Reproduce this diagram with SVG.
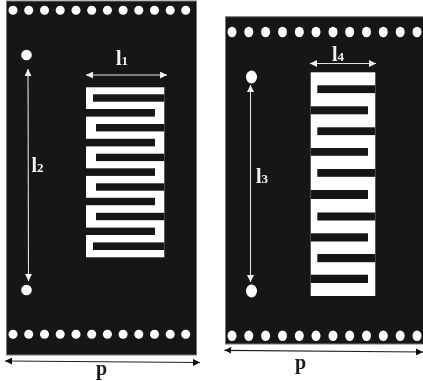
<svg xmlns="http://www.w3.org/2000/svg" width="423" height="381" viewBox="0 0 423 381">
<style>
.board{fill:#161616;stroke:#777;stroke-width:1}
.hole{fill:#fff}
.trace{fill:#fff}
.gap{fill:#161616}
.lite{stroke:#e0e0e0;stroke-width:1.1;fill:none;marker-start:url(#wh);marker-end:url(#wh)}
.dark{stroke:#222;stroke-width:1.2;fill:none;marker-start:url(#bh);marker-end:url(#bh)}
text{font-family:"Liberation Serif",serif;font-weight:bold}
.w{fill:#f2f2f2}.k{fill:#1a1a1a}
</style>
<defs>
<filter id="soft" x="0" y="0" width="423" height="381" filterUnits="userSpaceOnUse"><feGaussianBlur stdDeviation="0.45"/></filter>
<marker id="wh" markerUnits="userSpaceOnUse" markerWidth="7" markerHeight="7" refX="6" refY="3" orient="auto-start-reverse" viewBox="0 0 6 6"><path d="M0 0L6 3L0 6Z" fill="#f0f0f0"/></marker>
<marker id="bh" markerUnits="userSpaceOnUse" markerWidth="7" markerHeight="7" refX="6" refY="3" orient="auto-start-reverse" viewBox="0 0 6 6"><path d="M0 0L6 3L0 6Z" fill="#111"/></marker>
<g id="rowL"><circle cx="13" r="4.5"/><circle cx="28.7" r="4.5"/><circle cx="44.5" r="4.5"/><circle cx="60.2" r="4.5"/><circle cx="76" r="4.5"/><circle cx="91.7" r="4.5"/><circle cx="107.4" r="4.5"/><circle cx="123.1" r="4.5"/><circle cx="138.8" r="4.5"/><circle cx="154.5" r="4.5"/><circle cx="170.2" r="4.5"/><circle cx="185.7" r="4.5"/></g>
<g id="rowR"><ellipse cx="232" rx="4.5" ry="5.2"/><ellipse cx="248.8" rx="4.5" ry="5.2"/><ellipse cx="265.6" rx="4.5" ry="5.2"/><ellipse cx="282.5" rx="4.5" ry="5.2"/><ellipse cx="299.3" rx="4.5" ry="5.2"/><ellipse cx="316" rx="4.5" ry="5.2"/><ellipse cx="333" rx="4.5" ry="5.2"/><ellipse cx="349.7" rx="4.5" ry="5.2"/><ellipse cx="366.5" rx="4.5" ry="5.2"/><ellipse cx="383.3" rx="4.5" ry="5.2"/><ellipse cx="400.2" rx="4.5" ry="5.2"/><ellipse cx="417" rx="4.5" ry="5.2"/></g>
</defs>
<rect width="423" height="381" fill="#fff"/>
<g filter="url(#soft)">
<g id="board-left">
<rect class="board" x="6.5" y="1" width="190" height="354"/>
<use href="#rowL" y="10.3" class="hole"/>
<use href="#rowL" y="334.3" class="hole"/>
<circle class="hole" cx="26.5" cy="55" r="5.3"/>
<circle class="hole" cx="26.5" cy="290" r="5.3"/>
</g>
<g id="meander-left">
<rect class="trace" x="86" y="87.3" width="78.3" height="170"/>
<rect class="gap" x="93" y="94.3" width="71.3" height="7.4"/>
<rect class="gap" x="96" y="124" width="68.3" height="7.4"/>
<rect class="gap" x="96" y="153.7" width="68.3" height="7.4"/>
<rect class="gap" x="96" y="183.3" width="68.3" height="7.4"/>
<rect class="gap" x="96" y="212.8" width="68.3" height="7.4"/>
<rect class="gap" x="93" y="242.4" width="71.3" height="7.6"/>
<rect class="gap" x="86" y="109" width="69" height="7.6"/>
<rect class="gap" x="86" y="138.8" width="69" height="7.6"/>
<rect class="gap" x="86" y="168.3" width="69" height="7.6"/>
<rect class="gap" x="86" y="197.8" width="69" height="7.4"/>
<rect class="gap" x="86" y="227.6" width="69" height="7.4"/>
</g>
<g id="board-right">
<rect class="board" x="225.5" y="16.7" width="198" height="327.3"/>
<use href="#rowR" y="32" class="hole"/>
<use href="#rowR" y="335.7" class="hole"/>
<ellipse class="hole" cx="251.5" cy="77" rx="5.5" ry="6.5"/>
<ellipse class="hole" cx="251.5" cy="291" rx="5.5" ry="6.5"/>
</g>
<g id="meander-right">
<rect class="trace" x="310.7" y="72.3" width="64.6" height="223.7"/>
<rect class="gap" x="317.3" y="85.3" width="58" height="7.8"/>
<rect class="gap" x="317.3" y="127.3" width="58" height="7.8"/>
<rect class="gap" x="317.3" y="169" width="58" height="7.8"/>
<rect class="gap" x="317.3" y="212.5" width="58" height="8"/>
<rect class="gap" x="317.3" y="254" width="58" height="8.2"/>
<rect class="gap" x="310.7" y="106.3" width="57.3" height="8"/>
<rect class="gap" x="310.7" y="148" width="57.3" height="7.8"/>
<rect class="gap" x="310.7" y="190" width="57.3" height="9"/>
<rect class="gap" x="310.7" y="233.3" width="57.3" height="8.2"/>
<rect class="gap" x="310.7" y="274.7" width="57.3" height="8.3"/>
</g>
<g id="connectors">
<line class="lite" x1="86" y1="75" x2="167" y2="75"/>
<line class="lite" x1="28" y1="69" x2="28.5" y2="281"/>
<line class="lite" x1="310" y1="63.5" x2="376" y2="63.5"/>
<line class="lite" x1="250.5" y1="85" x2="250.5" y2="282"/>
<line class="dark" x1="5" y1="361" x2="200" y2="362.5"/>
<line class="dark" x1="224.5" y1="350.3" x2="423" y2="352"/>
</g>
<g id="labels">
<text class="w" x="116" y="65" font-size="20">l<tspan font-size="13">1</tspan></text>
<text class="w" x="31.5" y="172" font-size="20">l<tspan font-size="13">2</tspan></text>
<text class="w" x="256" y="183" font-size="20">l<tspan font-size="13">3</tspan></text>
<text class="w" x="332" y="61" font-size="20">l<tspan font-size="13">4</tspan></text>
<text class="k" x="96" y="375" font-size="20">p</text>
<text class="k" x="295" y="369" font-size="20">p</text>
</g>
</g>
</svg>
